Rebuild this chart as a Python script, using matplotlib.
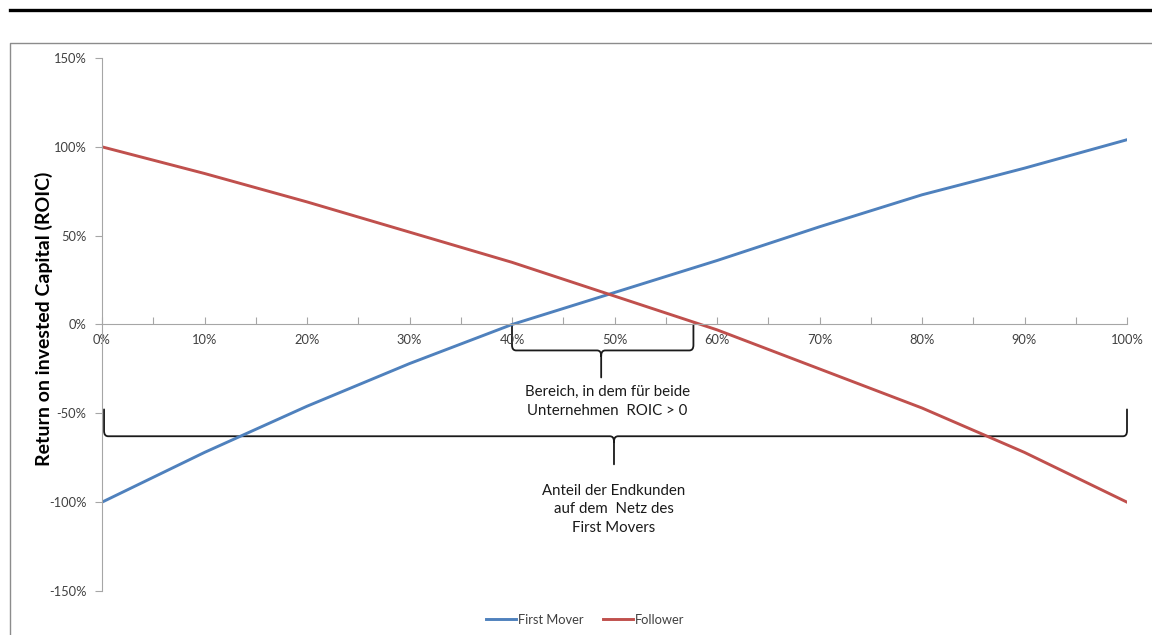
"""ROIC of first mover vs. follower by share of end customers"""

import matplotlib.pyplot as plt
import numpy as np
from matplotlib.path import Path
from matplotlib.patches import PathPatch
from matplotlib.lines import Line2D

plt.rcParams['font.family'] = ['Lato', 'DejaVu Sans']

# share of end customers on the first mover's network
share = [0.0, 0.1, 0.2, 0.3, 0.4, 0.5, 0.6, 0.7, 0.8, 0.9, 1.0]
first_mover = [-1.00, -0.72, -0.46, -0.22, 0.00, 0.18, 0.36, 0.55, 0.73, 0.88, 1.04]
follower = [1.00, 0.85, 0.69, 0.52, 0.35, 0.16, -0.03, -0.25, -0.47, -0.72, -1.00]
series_names = ['First Mover', 'Follower']

y_ticks = np.arange(-1.5, 1.51, 0.5)
x_ticks = np.arange(0, 1.01, 0.05)

# brace spans: (x_left, x_right, x_tip, y_ends, y_bar, y_tip)
brace_small = (0.40, 0.577, 0.487, 0.0, -0.146, -0.298)
brace_big = (0.002, 1.0, 0.4995, -0.478, -0.629, -0.787)
text_small = 'Bereich, in dem für beide\nUnternehmen  ROIC > 0'
text_big = 'Anteil der Endkunden\nauf dem  Netz des\nFirst Movers'

blue = '#4F81BD'
red = '#C0504D'
axis_grey = '#A6A6A6'
label_grey = '#404040'


def brace(ax, x0, x1, xc, y0, y1, y2, rx=0.004, ry=0.03):
    verts = [(x0, y0), (x0, y1 + ry), (x0, y1), (x0 + rx, y1),
             (xc - rx, y1), (xc, y1), (xc, y1 - ry), (xc, y2),
             (xc, y1 - ry), (xc, y1), (xc + rx, y1),
             (x1 - rx, y1), (x1, y1), (x1, y1 + ry), (x1, y0)]
    codes = [Path.MOVETO, Path.LINETO, Path.CURVE3, Path.CURVE3,
             Path.LINETO, Path.CURVE3, Path.CURVE3, Path.LINETO,
             Path.MOVETO, Path.CURVE3, Path.CURVE3,
             Path.LINETO, Path.CURVE3, Path.CURVE3, Path.LINETO]
    ax.add_patch(PathPatch(Path(verts, codes), fill=False, lw=1.3,
                           edgecolor='#1a1a1a', capstyle='round', clip_on=False))


fig = plt.figure(figsize=(11.52, 6.35), dpi=100)
ax = fig.add_axes([102 / 1152, 1 - 591 / 635, 1025 / 1152, 533 / 635])

ax.plot(share, first_mover, color=blue, lw=2.1, label=series_names[0])
ax.plot(share, follower, color=red, lw=2.1, label=series_names[1])

ax.set_xlim(0, 1)
ax.set_ylim(-1.5, 1.5)

# axes styled like an Excel chart
for s in ['top', 'right']:
    ax.spines[s].set_visible(False)
ax.spines['bottom'].set_position(('data', 0))
ax.spines['bottom'].set_color(axis_grey)
ax.spines['left'].set_color(axis_grey)
ax.set_yticks(y_ticks)
ax.set_yticklabels([f'{v:.0%}' for v in y_ticks])
ax.set_xticks(x_ticks)
ax.set_xticklabels([f'{v:.0%}' if i % 2 == 0 else '' for i, v in enumerate(x_ticks)])
ax.tick_params(axis='x', direction='in', length=5, color=axis_grey,
               labelsize=9.3, labelcolor=label_grey, pad=7)
ax.tick_params(axis='y', direction='out', length=5, color=axis_grey,
               labelsize=9.3, labelcolor=label_grey, pad=6)
ax.patch.set_visible(False)

fig.text(44 / 1152, 1 - 319 / 635, 'Return on invested Capital (ROIC)',
         rotation=90, ha='center', va='center', fontsize=14, fontweight='bold')

brace(ax, *brace_small)
brace(ax, *brace_big)
ax.text(0.493, -0.34, text_small, ha='center', va='top', fontsize=10.8,
        color='#1a1a1a', linespacing=1.45)
ax.text(0.4995, -0.895, text_big, ha='center', va='top', fontsize=10.8,
        color='#1a1a1a', linespacing=1.45)

fig.legend(loc='center', bbox_to_anchor=(0.508, 1 - 619.5 / 635), ncol=2,
           frameon=False, fontsize=9.3, handlelength=2.3, handletextpad=0.15,
           columnspacing=1.5, labelcolor=label_grey)

# outer frame and black rule
fig.add_artist(Line2D([10 / 1152, 1], [1 - 9.5 / 635] * 2, color='black', lw=2.4))
fig.add_artist(Line2D([10 / 1152, 10 / 1152, 1], [0, 1 - 43 / 635, 1 - 43 / 635],
                      color='#8c8c8c', lw=1.0))

fig.savefig('out.png', dpi=100)
